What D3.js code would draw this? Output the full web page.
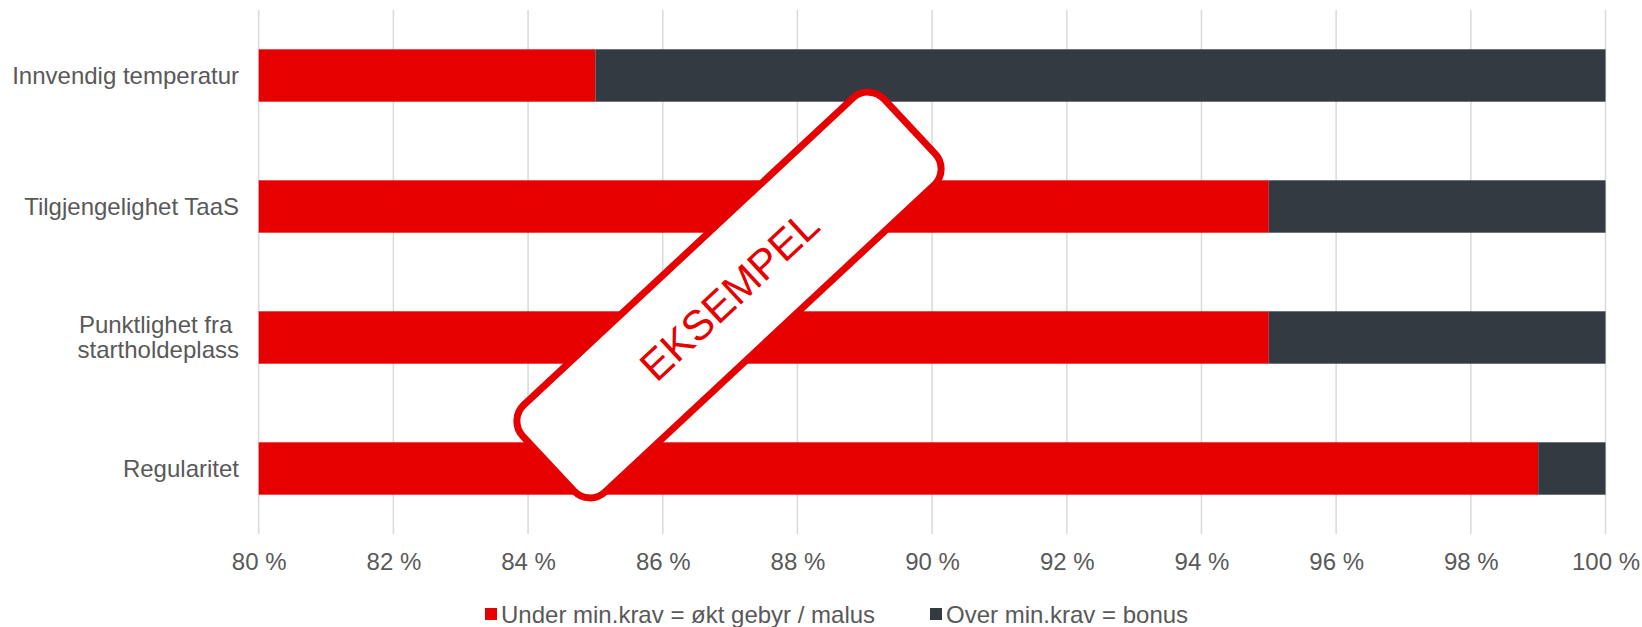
<!DOCTYPE html>
<html>
<head>
<meta charset="utf-8">
<script src="https://cdn.jsdelivr.net/npm/d3@7"></script>
<style>
  html, body { margin: 0; padding: 0; background: #fff; }
  svg { display: block; font-family: "Liberation Sans", Arial, sans-serif; }
</style>
</head>
<body>
<svg id="chart" width="1642" height="627"></svg>
<script>
// ---- data ----
const categories = [
  ["Innvendig temperatur"],
  ["Tilgjengelighet TaaS"],
  ["Punktlighet fra ", "startholdeplass"],
  ["Regularitet"]
];
const categoryKeys = categories.map(c => c.join(" "));
const underValues = [85, 95, 95, 99];   // Under min.krav = økt gebyr / malus
const overValues  = [15, 5, 5, 1];      // Over min.krav = bonus
const tickValues  = [80, 82, 84, 86, 88, 90, 92, 94, 96, 98, 100];
const seriesNames = ["Under min.krav = økt gebyr / malus", "Over min.krav = bonus"];
const seriesColors = ["#E60000", "#343A42"];
const stampText = "EKSEMPEL";

// ---- layout ----
const svg = d3.select("#chart");
const x = d3.scaleLinear().domain([80, 100]).range([258.7, 1605.5]);
const y = d3.scaleBand().domain(categoryKeys).range([10, 534]).paddingInner(0.6).paddingOuter(0.3);

const textColor = "#595959";
const fontSize = 24;

// gridlines
svg.append("g").selectAll("line").data(tickValues).join("line")
  .attr("x1", d => x(d)).attr("x2", d => x(d))
  .attr("y1", 10).attr("y2", 534)
  .attr("stroke", "#D9D9D9").attr("stroke-width", 1.5);

// stacked bars
const rows = categoryKeys.map((k, i) => ({key: k, under: underValues[i], over: overValues[i]}));
const stack = d3.stack().keys(["under", "over"])(rows);
const barG = svg.append("g");
stack.forEach((layer, li) => {
  barG.append("g").selectAll("rect").data(layer).join("rect")
    .attr("x", d => x(Math.max(80, d[0] === 0 ? 80 : d[0])))
    .attr("width", d => x(d[1]) - x(Math.max(80, d[0] === 0 ? 80 : d[0])))
    .attr("y", d => y(d.data.key))
    .attr("height", y.bandwidth())
    .attr("fill", seriesColors[li]);
});

// category labels
const catG = svg.append("g");
categories.forEach((lines, i) => {
  const cy = y(categoryKeys[i]) + y.bandwidth() / 2;
  const t = catG.append("text")
    .attr("x", 239).attr("y", cy)
    .attr("text-anchor", "end")
    .attr("fill", textColor)
    .attr("font-size", fontSize)
    .style("white-space", "pre");
  const lh = 25;
  lines.forEach((ln, j) => {
    t.append("tspan")
      .attr("x", 239)
      .attr("y", cy + (j - (lines.length - 1) / 2) * lh)
      .attr("dy", "0.35em")
      .text(ln);
  });
});

// x axis tick labels
const xAxis = d3.axisBottom(x).tickValues(tickValues).tickSize(0).tickFormat(d => d + " %");
const axG = svg.append("g").attr("transform", "translate(0,550)").call(xAxis);
axG.select(".domain").remove();
axG.selectAll("text")
  .attr("fill", textColor)
  .attr("font-size", fontSize)
  .attr("font-family", '"Liberation Sans", Arial, sans-serif')
  .attr("dy", "0.71em")
  .attr("y", 3);

// legend
const legendX = [485, 930];
const legG = svg.append("g");
seriesNames.forEach((name, i) => {
  legG.append("rect")
    .attr("x", legendX[i]).attr("y", 608)
    .attr("width", 12).attr("height", 12)
    .attr("fill", seriesColors[i]);
  legG.append("text")
    .attr("x", legendX[i] + 16).attr("y", 623)
    .attr("fill", textColor)
    .attr("font-size", fontSize)
    .text(name);
});

// EKSEMPEL stamp
const stamp = svg.append("g").attr("transform", "translate(729,295) rotate(-43)");
stamp.append("rect")
  .attr("x", -247).attr("y", -59.5)
  .attr("width", 494).attr("height", 119)
  .attr("rx", 22).attr("ry", 22)
  .attr("fill", "#fff")
  .attr("stroke", "#E60000")
  .attr("stroke-width", 7);
stamp.append("text")
  .attr("x", 0).attr("y", 15)
  .attr("text-anchor", "middle")
  .attr("fill", "#E60000")
  .attr("font-size", 42)
  .text(stampText);
</script>
</body>
</html>
